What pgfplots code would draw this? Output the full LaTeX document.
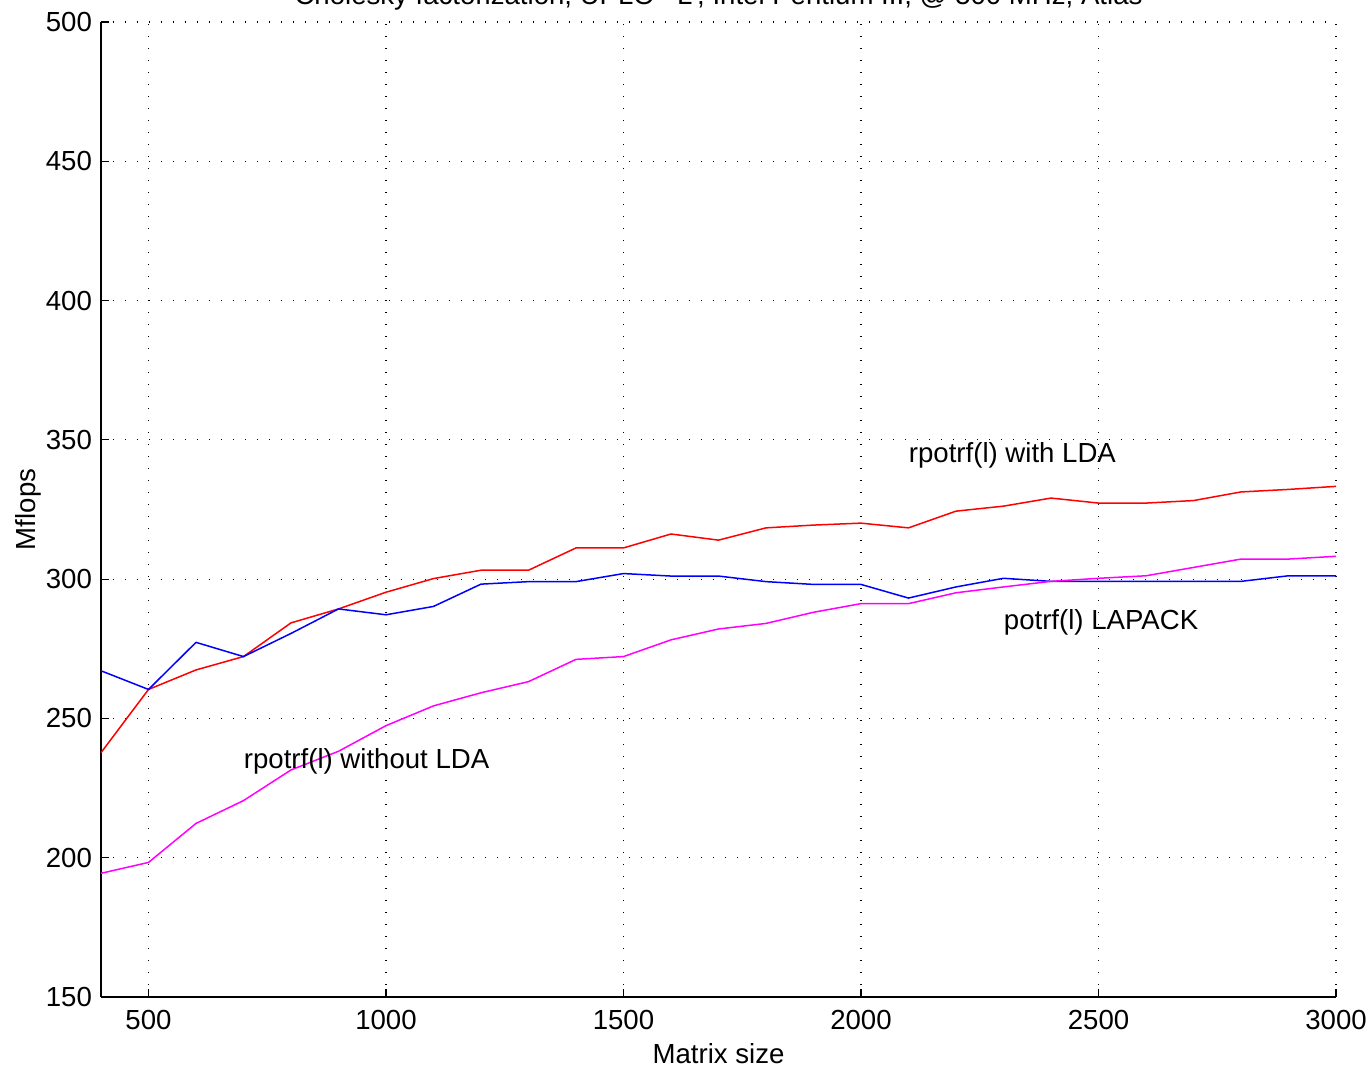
\documentclass[border=0pt]{standalone}
\usepackage{pgfplots}
\pgfplotsset{compat=1.18}
\usepackage{fontspec}
\setmainfont{Liberation Sans}
\definecolor{mymag}{rgb}{1,0,1}
\definecolor{myred}{rgb}{1,0,0}
\definecolor{myblue}{rgb}{0,0,1}
\begin{document}
\begin{tikzpicture}
\begin{axis}[
  at={(0,0)}, anchor=south west,
  scale only axis, width=617.5pt, height=487.5pt,
  xmin=400, xmax=3000, ymin=150, ymax=500,
  xtick={500,1000,...,3000}, ytick={150,200,...,500},
  axis x line*=bottom, axis y line*=left,
  axis line style={-, black, line width=0.6pt},
  tick align=inside, major tick length=4pt,
  tick style={black, line width=0.6pt},
  grid=major, major grid style={black, line width=0.6pt, dash pattern=on 0.6pt off 5.4pt},
  /pgf/number format/assume math mode=true,
  /pgf/number format/1000 sep={},
  font=\fontsize{13.8}{16}\selectfont,
  ticklabel style={font=\fontsize{13.8}{16}\selectfont},
  xticklabel style={yshift=-3pt},
  yticklabel style={xshift=-1pt},
  xlabel={Matrix size}, ylabel={Mflops},
  xlabel style={yshift=0pt},
  ylabel style={yshift=-4.5pt},
  clip=false,
]
\addplot[myred, line width=0.75pt] coordinates {
(400,237.7)(500,260.4)(600,267.4)(700,272.2)(800,284.3)(900,289.3)(1000,295.3)(1100,300.2)(1200,303.2)(1300,303.2)
(1400,311.2)(1500,311.2)(1600,316.2)(1700,314.0)(1800,318.4)(1900,319.4)(2000,320.1)(2100,318.4)(2200,324.4)(2300,326.2)
(2400,329.1)(2500,327.3)(2600,327.3)(2700,328.2)(2800,331.3)(2900,332.2)(3000,333.3)};
\addplot[myblue, line width=0.75pt] coordinates {
(400,267.1)(500,260.4)(600,277.3)(700,272.2)(800,280.5)(900,289.3)(1000,287.2)(1100,290.2)(1200,298.2)(1300,299.1)
(1400,299.1)(1500,302.0)(1600,301.1)(1700,301.1)(1800,299.1)(1900,298.1)(2000,298.1)(2100,293.2)(2200,297.2)(2300,300.3)
(2400,299.2)(2500,299.2)(2600,299.2)(2700,299.2)(2800,299.2)(2900,301.2)(3000,301.2)};
\addplot[mymag, line width=0.75pt] coordinates {
(400,194.4)(500,198.3)(600,212.3)(700,220.5)(800,231.5)(900,238.2)(1000,247.4)(1100,254.5)(1200,259.2)(1300,263.2)
(1400,271.2)(1500,272.2)(1600,278.2)(1700,282.1)(1800,284.1)(1900,288.1)(2000,291.2)(2100,291.2)(2200,295.1)(2300,297.2)
(2400,299.2)(2500,300.3)(2600,301.2)(2700,304.2)(2800,307.2)(2900,307.2)(3000,308.2)};
\node[anchor=west, inner sep=0pt, font=\fontsize{13.8}{16}\selectfont] at (axis cs:2100,344.5) {rpotrf(l) with LDA};
\node[anchor=west, inner sep=0pt, font=\fontsize{13.8}{16}\selectfont] at (axis cs:2300,284.5) {potrf(l) LAPACK};
\node[anchor=west, inner sep=0pt, font=\fontsize{13.8}{16}\selectfont] at (axis cs:700,234.5) {rpotrf(l) without LDA};
\node[anchor=base, inner sep=0pt, font=\fontsize{13.8}{16}\selectfont] at ([yshift=8.5pt]axis description cs:0.5,1) {Cholesky factorization, UPLO='L', Intel Pentium III, @ 500 MHz, Atlas};
\end{axis}
\pgfresetboundingbox
\path[use as bounding box] (-50.5pt,-35.5pt) rectangle (635pt,498.5pt);
\end{tikzpicture}
\end{document}
